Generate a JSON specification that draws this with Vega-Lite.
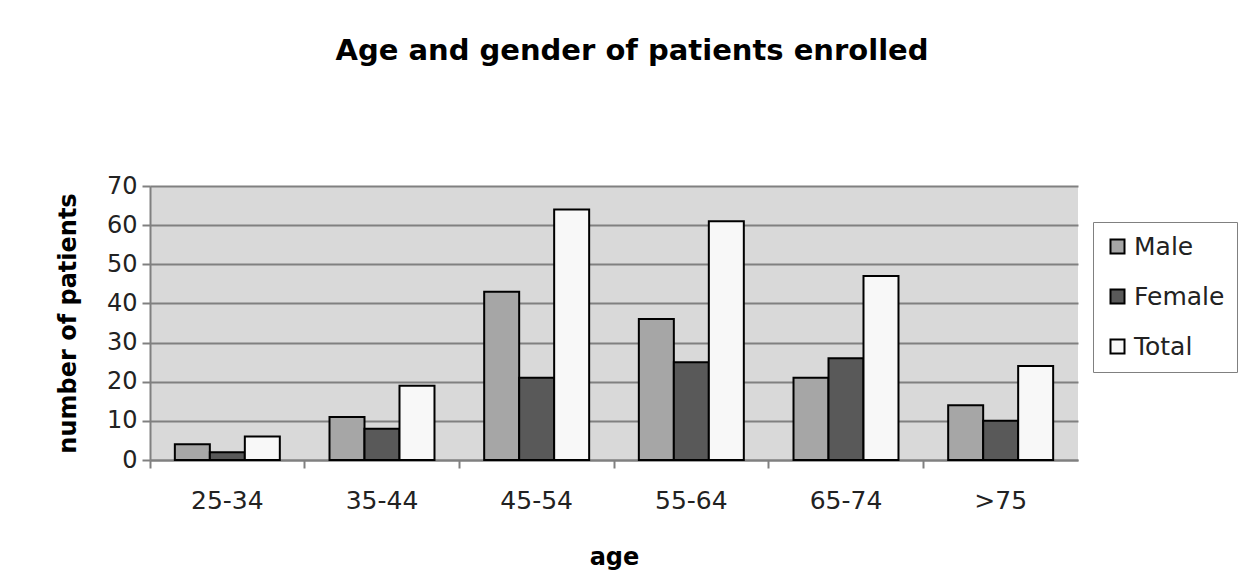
{
  "$schema": "https://vega.github.io/schema/vega-lite/v6.json",
  "width": 928,
  "height": 274,
  "autosize": {"type": "none"},
  "padding": {"left": 150, "top": 186, "right": 168, "bottom": 124},
  "background": "white",
  "title": {
    "text": "Age and gender of patients enrolled",
    "font": "DejaVu Sans",
    "fontSize": 29,
    "fontWeight": "bold",
    "color": "black",
    "anchor": "middle",
    "frame": "group",
    "offset": 108,
    "dx": 18
  },
  "data": {
    "values": [
      {"age": "25-34", "gender": "Male", "count": 4},
      {"age": "25-34", "gender": "Female", "count": 2},
      {"age": "25-34", "gender": "Total", "count": 6},
      {"age": "35-44", "gender": "Male", "count": 11},
      {"age": "35-44", "gender": "Female", "count": 8},
      {"age": "35-44", "gender": "Total", "count": 19},
      {"age": "45-54", "gender": "Male", "count": 43},
      {"age": "45-54", "gender": "Female", "count": 21},
      {"age": "45-54", "gender": "Total", "count": 64},
      {"age": "55-64", "gender": "Male", "count": 36},
      {"age": "55-64", "gender": "Female", "count": 25},
      {"age": "55-64", "gender": "Total", "count": 61},
      {"age": "65-74", "gender": "Male", "count": 21},
      {"age": "65-74", "gender": "Female", "count": 26},
      {"age": "65-74", "gender": "Total", "count": 47},
      {"age": ">75", "gender": "Male", "count": 14},
      {"age": ">75", "gender": "Female", "count": 10},
      {"age": ">75", "gender": "Total", "count": 24}
    ]
  },
  "mark": {"type": "bar", "stroke": "black", "strokeWidth": 2},
  "encoding": {
    "x": {
      "field": "age",
      "type": "nominal",
      "sort": ["25-34", "35-44", "45-54", "55-64", "65-74", ">75"],
      "scale": {"paddingInner": 0, "paddingOuter": 0},
      "axis": {
        "title": "age",
        "labelAngle": 0,
        "bandPosition": 0,
        "tickSize": 8,
        "tickColor": "#808080",
        "tickWidth": 2,
        "domainColor": "#808080",
        "domainWidth": 2,
        "labelPadding": 20,
        "labelFontSize": 25,
        "labelFont": "DejaVu Sans",
        "labelColor": "#222",
        "titleFont": "DejaVu Sans",
        "titleFontSize": 24,
        "titleFontWeight": "bold",
        "titleColor": "black",
        "titlePadding": 32
      }
    },
    "xOffset": {
      "field": "gender",
      "type": "nominal",
      "sort": ["Male", "Female", "Total"],
      "scale": {"paddingInner": 0, "paddingOuter": 0.71}
    },
    "y": {
      "field": "count",
      "type": "quantitative",
      "scale": {"domain": [0, 70], "nice": false},
      "axis": {
        "title": "number of patients",
        "values": [0, 10, 20, 30, 40, 50, 60, 70],
        "tickSize": 8,
        "tickColor": "#808080",
        "tickWidth": 2,
        "domainColor": "#808080",
        "domainWidth": 2,
        "gridColor": "#808080",
        "gridWidth": 2,
        "labelPadding": 5,
        "labelFontSize": 24,
        "labelFont": "DejaVu Sans",
        "labelColor": "#222",
        "titleFont": "DejaVu Sans",
        "titleFontSize": 24,
        "titleFontWeight": "bold",
        "titleColor": "black",
        "titlePadding": 26
      }
    },
    "color": {
      "field": "gender",
      "type": "nominal",
      "sort": ["Male", "Female", "Total"],
      "scale": {"domain": ["Male", "Female", "Total"], "range": ["#a6a6a6", "#595959", "#f8f8f8"]},
      "legend": {
        "title": null,
        "orient": "none",
        "legendX": 943,
        "legendY": 36,
        "symbolType": "square",
        "symbolSize": 196,
        "symbolStrokeColor": "black",
        "symbolStrokeWidth": 2,
        "symbolOpacity": 1,
        "labelFont": "DejaVu Sans",
        "labelFontSize": 25,
        "labelColor": "#222",
        "rowPadding": 24,
        "padding": 12,
        "strokeColor": "#808080",
        "fillColor": "white"
      }
    }
  },
  "config": {
    "view": {"fill": "#d9d9d9", "stroke": null}
  }
}
